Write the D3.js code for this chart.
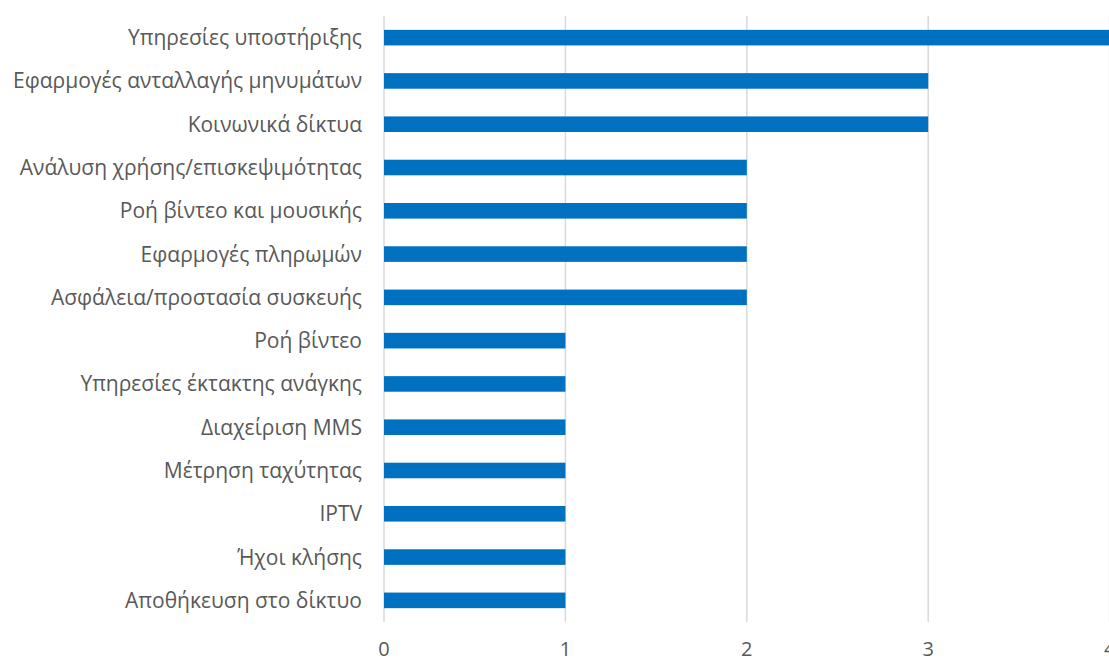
<!DOCTYPE html>
<html><head><meta charset="utf-8">
<script src="https://cdn.jsdelivr.net/npm/d3@7"></script>
<style>body{margin:0;background:#fff;overflow:hidden}svg{display:block}</style>
</head><body>
<svg id="c" width="1109" height="661"></svg>
<script>
const categories = [
  "Υπηρεσίες υποστήριξης",
  "Εφαρμογές ανταλλαγής μηνυμάτων",
  "Κοινωνικά δίκτυα",
  "Ανάλυση χρήσης/επισκεψιμότητας",
  "Ροή βίντεο και μουσικής",
  "Εφαρμογές πληρωμών",
  "Ασφάλεια/προστασία συσκευής",
  "Ροή βίντεο",
  "Υπηρεσίες έκτακτης ανάγκης",
  "Διαχείριση MMS",
  "Μέτρηση ταχύτητας",
  "IPTV",
  "Ήχοι κλήσης",
  "Αποθήκευση στο δίκτυο"
];
const values = [4, 3, 3, 2, 2, 2, 2, 1, 1, 1, 1, 1, 1, 1];
const xTicks = [0, 1, 2, 3, 4];

(function () {
const svg = d3.select("#c");
const mLeft = 384, mRight = 1109.6, mTop = 16, mBottom = 622;
const x = d3.scaleLinear().domain([0, 4]).range([mLeft, mRight]);
const y = d3.scaleBand().domain(categories).range([mTop, mBottom]).paddingInner(0.64).paddingOuter(0.32);

svg.append("g").selectAll("line").data(xTicks).join("line")
  .attr("x1", d => x(d)).attr("x2", d => x(d))
  .attr("y1", mTop).attr("y2", mBottom)
  .attr("stroke", "#d9d9d9").attr("stroke-width", 1.5);

svg.append("g").selectAll("rect").data(values).join("rect")
  .attr("x", x(0)).attr("y", (d, i) => y(categories[i]))
  .attr("width", d => x(d) - x(0)).attr("height", y.bandwidth())
  .attr("fill", "#0070C0");

svg.append("g").selectAll("text").data(categories).join("text")
  .attr("x", mLeft - 22).attr("y", d => y(d) + y.bandwidth() / 2)
  .attr("dy", "0.36em").attr("text-anchor", "end")
  .attr("font-family", "'Open Sans', 'Noto Sans', sans-serif").attr("font-size", 21)
  .attr("fill", "#595959").text(d => d);

svg.append("g").selectAll("text").data(xTicks).join("text")
  .attr("x", d => x(d)).attr("y", 656)
  .attr("text-anchor", "middle")
  .attr("font-family", "'Open Sans', 'Noto Sans', sans-serif").attr("font-size", 20)
  .attr("fill", "#595959").text(d => d);
})();
</script>
</body></html>
